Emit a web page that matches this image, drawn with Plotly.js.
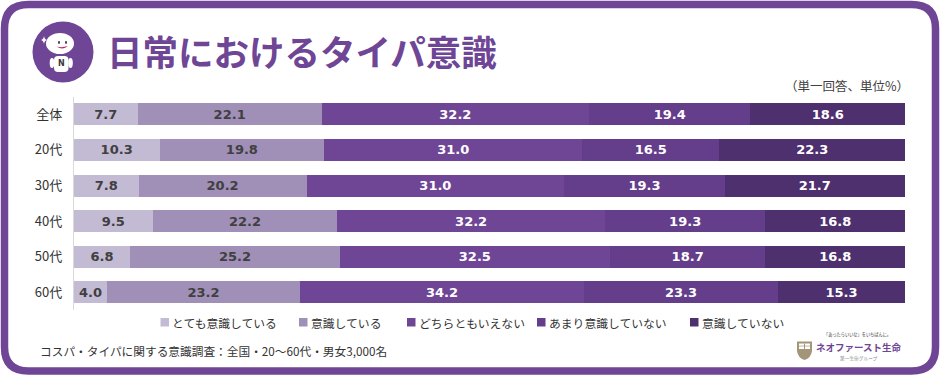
<!DOCTYPE html>
<html><head><meta charset="utf-8">
<script src="https://cdn.plot.ly/plotly-3.0.1.min.js"></script>
<style>html,body{margin:0;padding:0;background:#fff}#c{width:940px;height:376px}</style>
</head><body><div id="c"></div>
<script>
const categories = ['全体','20代','30代','40代','50代','60代'];
const seriesNames = ['とても意識している','意識している','どちらともいえない','あまり意識していない','意識していない'];
const s1 = [7.7,10.3,7.8,9.5,6.8,4.0];
const s2 = [22.1,19.8,20.2,22.2,25.2,23.2];
const s3 = [32.2,31.0,31.0,32.2,32.5,34.2];
const s4 = [19.4,16.5,19.3,19.3,18.7,23.3];
const s5 = [18.6,22.3,21.7,16.8,16.8,15.3];
const colors = ['#c3bad4','#a08fb7','#6f4596','#643d8b','#4f306f'];
const labelColors = ['#404040','#404040','#ffffff','#ffffff','#ffffff'];
const legendX = [160.5,299,407,537,690];
const titleText = '日常におけるタイパ意識';
const unitText = '（単一回答、単位%）';
const noteText = 'コスパ・タイパに関する意識調査：全国・20～60代・男女3,000名';
const JP = '"Noto Sans CJK JP","Noto Sans",sans-serif';
const W = 940, H = 376;
const px = x => x / W, py = y => 1 - y / H;
const PURPLE = '#6f4596';

const traces = [s1,s2,s3,s4,s5].map((v,i)=>({
  type:'bar', orientation:'h', name:seriesNames[i], y:categories, x:v,
  marker:{color:colors[i],line:{width:0}},
  text:v.map(n=>n.toFixed(1)), textposition:'inside', insidetextanchor:'middle',
  textangle:0, constraintext:'none',
  textfont:{family:'"DejaVu Sans",sans-serif',size:13,weight:700,color:labelColors[i]},
  hoverinfo:'skip', showlegend:false
}));

function pathOf(cmds){
  return cmds.map(c=>{
    const t=c[0], a=c.slice(1);
    const out=[];
    for(let i=0;i<a.length;i+=2) out.push(px(a[i])+','+py(a[i+1]));
    return t+out.join(' ');
  }).join(' ');
}
function shapePath(cmds,fill,line,lw){
  return {type:'path',xref:'paper',yref:'paper',path:pathOf(cmds)+' Z',fillcolor:fill,line:{color:line||fill,width:lw||0}};
}
function ell(cx,cy,rx,ry,fill,line,lw){
  return {type:'circle',xref:'paper',yref:'paper',x0:px(cx-rx),x1:px(cx+rx),y0:py(cy+ry),y1:py(cy-ry),fillcolor:fill,line:{color:line||fill,width:lw||0}};
}
function rect(x0,y0,x1,y1,fill){
  return {type:'rect',xref:'paper',yref:'paper',x0:px(x0),x1:px(x1),y0:py(y1),y1:py(y0),fillcolor:fill,line:{width:0}};
}
function rr(x0,y0,x1,y1,r){
  return [['M',x0+r,y0],['L',x1-r,y0],['Q',x1,y0,x1,y0+r],['L',x1,y1-r],['Q',x1,y1,x1-r,y1],['L',x0+r,y1],['Q',x0,y1,x0,y1-r],['L',x0,y0+r],['Q',x0,y0,x0+r,y0]];
}
function txt(x,y,text,size,color,anchor,opts){
  return Object.assign({xref:'paper',yref:'paper',x:px(x),y:py(y),text:text,showarrow:false,xanchor:anchor||'left',yanchor:'middle',
    font:{family:JP,size:size,color:color},borderpad:0,borderwidth:0},opts||{});
}

const shapes = [
  {type:'path',xref:'paper',yref:'paper',path:pathOf(rr(4.5,4.5,935.5,371,24))+' Z',fillcolor:'rgba(0,0,0,0)',line:{color:PURPLE,width:7.5}},
  ell(63,52,30.5,30.5,PURPLE),
  ell(60,43.5,14,10.5,'#ffffff'),
  shapePath(rr(54,56,68.5,72,4),'#ffffff'),
  ell(52,63,2.3,5,'#ffffff'),
  ell(70.5,63,2.3,5,'#ffffff'),
  ell(59,42.5,1,1.4,'#3a3a3a'),
  ell(66,42.5,1,1.4,'#3a3a3a'),
  shapePath([['M',56.5,46.5],['Q',62,48,68,46],['Q',63,50.5,56.5,46.5]],'#c8205a'),
  shapePath([['M',44,36],['Q',44.5,39.5,47,40],['Q',44.5,40.5,44,44],['Q',43.5,40.5,41,40],['Q',43.5,39.5,44,36]],'#ffffff'),
  shapePath([['M',797,341.5],['L',812,341.5],['L',812,351],['Q',811,358,804.5,360],['Q',798,358,797,351]],'#a39678'),
  shapePath([['M',799,343.5],['L',810,343.5],['L',810,349],['L',799,349]],'#ffffff'),
  rect(804,343.5,805,349,'#a39678'),
  rect(799,345.7,810,346.4,'#a39678')
];
legendX.forEach((x,i)=>shapes.push(rect(x,318,x+8.5,326.5,colors[i])));

const annotations = [
  txt(107,51,'<b>'+titleText+'</b>',35.5,PURPLE),
  txt(908.5,86,unitText,12.5,'#404040','right'),
  txt(40,350,noteText,11.7,'#333333'),
  txt(61,63.5,'<b>N</b>',8,'#3a3a3a','center',{font:{family:'"DejaVu Sans",sans-serif',size:8,color:'#3a3a3a'}}),
  txt(857.5,334,'「あったらいいな」をいちばんに。',4.2,'#333333','center'),
  txt(815.5,347,'<b>ネオファースト生命</b>',9.5,PURPLE),
  txt(858.5,358,'第一生命グループ',4.7,'#888888','center')
];
seriesNames.forEach((n,i)=>annotations.push(txt(legendX[i]+11.5,322,n,11.8,'#333333')));

Plotly.newPlot('c',traces,{
  width:W,height:H,
  margin:{l:0,r:0,t:0,b:0,pad:0},
  paper_bgcolor:'#ffffff',plot_bgcolor:'#ffffff',
  barmode:'stack',barnorm:'percent',bargap:0.38,
  showlegend:false,
  xaxis:{domain:[px(73.8),px(905)],range:[0,100],visible:false,fixedrange:true},
  yaxis:{domain:[py(310.2),py(96.5)],type:'category',categoryorder:'array',categoryarray:categories,autorange:'reversed',
    showgrid:false,zeroline:false,showline:true,linecolor:'#d9d9d9',linewidth:1,ticks:'',ticklabelstandoff:8,
    tickfont:{family:JP,size:13,color:'#333333'},fixedrange:true},
  shapes:shapes,annotations:annotations,
  font:{family:JP}
},{displayModeBar:false,staticPlot:true});
</script></body></html>
